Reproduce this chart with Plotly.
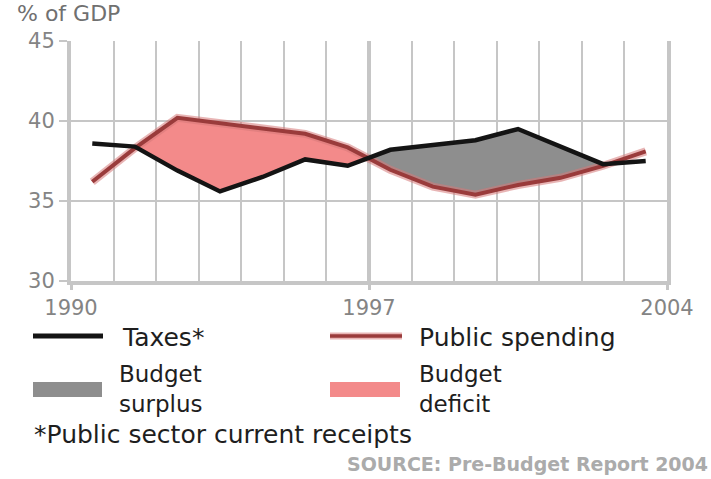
import plotly.graph_objects as go

# Fiscal years, plotted at mid-year
year_mid = [1990.5, 1991.5, 1992.5, 1993.5, 1994.5, 1995.5, 1996.5,
            1997.5, 1998.5, 1999.5, 2000.5, 2001.5, 2002.5, 2003.5]
# Public sector current receipts, % of GDP
taxes = [38.6, 38.4, 36.9, 35.6, 36.5, 37.6, 37.2,
         38.2, 38.5, 38.8, 39.5, 38.4, 37.3, 37.5]
# Total public spending, % of GDP
spending = [36.2, 38.3, 40.2, 39.85, 39.5, 39.2, 38.35,
            36.95, 35.9, 35.4, 36.0, 36.45, 37.2, 38.1]

y_ticks = [30, 35, 40, 45]
x_ticks = [1990, 1997, 2004]
x_range = [1990, 2004]
y_range = [30, 45]

title_text = "% of GDP"
taxes_label = "Taxes*"
spending_label = "Public spending"
surplus_label = "Budget<br>surplus"
deficit_label = "Budget<br>deficit"
footnote = "*Public sector current receipts"
source = "SOURCE: Pre-Budget Report 2004"

FONT = "DejaVu Sans"
DEFICIT = "#f38a8a"
SURPLUS = "#8e8e8e"
SPEND_LINE = "#9a3b3b"
TAX_LINE = "#141414"
GRID = "#c6c6c6"

W, H = 711, 479
L, R, T, B = 71, 44, 41, 198
PW, PH = W - L - R, H - T - B


def px(x):
    return (x - L) / PW


def py(y):
    return (H - B - y) / PH


def crossings(x, a, b):
    """Points where series a and b cross, by linear interpolation."""
    out = []
    for i in range(len(x) - 1):
        d0 = a[i] - b[i]
        d1 = a[i + 1] - b[i + 1]
        if d0 * d1 < 0:
            t = d0 / (d0 - d1)
            out.append((i, x[i] + t * (x[i + 1] - x[i]),
                        a[i] + t * (a[i + 1] - a[i])))
    return out


fig = go.Figure()

# Shade the gap between receipts and spending between successive crossings
cross = crossings(year_mid, taxes, spending)
for (i0, x0, v0), (i1, x1, v1) in zip(cross[:-1], cross[1:]):
    idx = list(range(i0 + 1, i1 + 1))
    xs = [x0] + [year_mid[k] for k in idx] + [x1] + [year_mid[k] for k in reversed(idx)]
    ys = [v0] + [spending[k] for k in idx] + [v1] + [taxes[k] for k in reversed(idx)]
    gap = sum(spending[k] - taxes[k] for k in idx)
    colour = DEFICIT if gap > 0 else SURPLUS
    fig.add_trace(go.Scatter(x=xs, y=ys, mode="lines", fill="toself",
                             fillcolor=colour, line=dict(width=0),
                             hoverinfo="skip", showlegend=False))

# Spending line with a soft halo
fig.add_trace(go.Scatter(x=year_mid, y=spending, mode="lines",
                         line=dict(color="rgba(214,120,120,0.55)", width=8),
                         hoverinfo="skip", showlegend=False))
fig.add_trace(go.Scatter(x=year_mid, y=spending, mode="lines",
                         line=dict(color=SPEND_LINE, width=4),
                         name=spending_label, showlegend=False))
fig.add_trace(go.Scatter(x=year_mid, y=taxes, mode="lines",
                         line=dict(color=TAX_LINE, width=4.5),
                         name="Taxes", showlegend=False))

tick_font = dict(family=FONT, size=21, color="#848484")

fig.update_xaxes(
    range=x_range, tickvals=x_ticks, ticktext=[str(v) for v in x_ticks],
    showgrid=True, gridcolor=GRID, gridwidth=4,
    minor=dict(dtick=1, showgrid=True, gridcolor=GRID, gridwidth=2),
    showline=True, linecolor=GRID, linewidth=4,
    ticks="outside", ticklen=5, tickwidth=3, tickcolor=GRID,
    tickfont=tick_font,
    zeroline=False, fixedrange=True,
)
fig.update_yaxes(
    range=y_range, tickvals=y_ticks,
    showgrid=True, gridcolor=GRID, gridwidth=2,
    showline=True, linecolor=GRID, linewidth=4, mirror=True,
    ticks="outside", ticklen=8, tickwidth=2, tickcolor=GRID,
    tickfont=tick_font,
    zeroline=False, fixedrange=True,
)

# Legend drawn as swatches and labels under the plot
shapes = [
    dict(type="line", xref="paper", yref="paper",
         x0=px(33), x1=px(103), y0=py(336), y1=py(336),
         line=dict(color=TAX_LINE, width=5)),
    dict(type="line", xref="paper", yref="paper",
         x0=px(330), x1=px(402), y0=py(336), y1=py(336),
         line=dict(color="rgba(214,120,120,0.55)", width=7)),
    dict(type="line", xref="paper", yref="paper",
         x0=px(330), x1=px(402), y0=py(336), y1=py(336),
         line=dict(color=SPEND_LINE, width=3.5)),
    dict(type="rect", xref="paper", yref="paper",
         x0=px(33), x1=px(102), y0=py(397), y1=py(382),
         fillcolor=SURPLUS, line=dict(width=0)),
    dict(type="rect", xref="paper", yref="paper",
         x0=px(330), x1=px(400), y0=py(397), y1=py(382),
         fillcolor=DEFICIT, line=dict(width=0)),
]

legend_font = dict(family=FONT, size=25, color="#1e1e1e")
pair_font = dict(family=FONT, size=23, color="#1e1e1e")


def label(text, x, y, font, xanchor="left"):
    return dict(text=text, xref="paper", yref="paper", x=px(x), y=py(y),
                xanchor=xanchor, yanchor="middle", showarrow=False,
                font=font, align="left", borderpad=0)


annotations = [
    label(title_text, 16, 14, dict(family=FONT, size=22, color="#707070")),
    label(taxes_label, 121, 337, legend_font),
    label(spending_label, 418, 337, legend_font),
    label(surplus_label, 118, 389, pair_font),
    label(deficit_label, 418, 389, pair_font),
    label(footnote, 33, 434, legend_font),
    label("<b>" + source + "</b>", 709, 464,
          dict(family=FONT, size=19, color="#ababab"), xanchor="right"),
]

fig.update_layout(
    width=W, height=H,
    margin=dict(l=L, r=R, t=T, b=B),
    paper_bgcolor="white", plot_bgcolor="white",
    shapes=shapes, annotations=annotations,
    showlegend=False,
)

fig.write_html("out.html")
